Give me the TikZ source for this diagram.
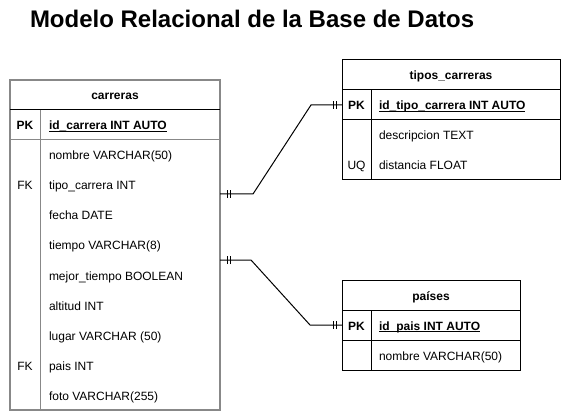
\documentclass[tikz,border=0pt]{standalone}
\usepackage{fontspec}
\setmainfont{Liberation Sans}
\usetikzlibrary{positioning}
\usetikzlibrary{decorations.markings}
\definecolor{cgray}{RGB}{136,136,136}
\newcommand\pkname[1]{\setbox0\hbox{#1}\rlap{\rule[-1.6pt]{\wd0}{0.8pt}}\box0}

\begin{document}
\begin{tikzpicture}[
    x=1pt, y=-1pt,
    every node/.style={
        inner sep=0, outer sep=0,
        font=\fontsize{12}{14}\selectfont
    },
    row/.style={
        minimum height=30pt, text height=10pt, text depth=0pt
    },
    hdr/.style={
        font=\fontsize{12}{14}\selectfont\bfseries
    },
    key/.style={
        text height=10pt, text depth=0pt
    },
    fld/.style={
        anchor=west, text height=10pt, text depth=0pt
    },
    tbl/.style={
        draw=black, line width=1pt
    },
    rel/.style={
        line width=1pt,
        postaction={decorate},
        decoration={markings,
            mark=at position 7pt with {\draw[line width=1pt] (0,-4pt) -- (0,4pt);},
            mark=at position 10pt with {\draw[line width=1pt] (0,-4pt) -- (0,4pt);},
            mark=at position -6pt with {\draw[line width=1pt] (0,-4pt) -- (0,4pt);},
            mark=at position -9pt with {\draw[line width=1pt] (0,-4pt) -- (0,4pt);}
        }
    }
]
    \useasboundingbox (0,0) rectangle (561,411);

    \node[anchor=base west, font=\fontsize{24}{28}\selectfont\bfseries]
        (titulo) at (30,28) {Modelo Relacional de la Base de Datos};

    % carreras
    \node[row, hdr, minimum width=210pt] (carreras) at (115,95) {carreras};
    \node[row, minimum width=210pt, below=0pt of carreras] (carreras-pk) {};
    \node[minimum width=210pt, minimum height=270pt,
        below=0pt of carreras-pk] (carreras-body) {};
    \draw[cgray, line width=1.5pt]
        (carreras.north west) rectangle (carreras-body.south east);
    \draw[line width=1pt] (carreras.south west) -- (carreras.south east);
    \draw[cgray, line width=1pt]
        (carreras-pk.south west) -- (carreras-pk.south east);
    \draw[cgray, line width=1pt]
        ([xshift=30pt]carreras-pk.north west) -- ([xshift=30pt]carreras-body.south west);

    \node[key, hdr] (carreras-k1) at (25,125) {PK};
    \node[key] (carreras-k2) at (25,185) {FK};
    \node[key] (carreras-k3) at (25,365) {FK};

    \node[fld, hdr] (id-carrera) at (49,125) {\pkname{id\_carrera INT AUTO}};
    \node[fld] (nombre) at (49,155) {nombre VARCHAR(50)};
    \node[fld] (tipo) at (49,185) {tipo\_carrera INT};
    \node[fld] (fecha) at (49,215) {fecha DATE};
    \node[fld] (tiempo) at (49,245) {tiempo VARCHAR(8)};
    \node[fld] (mejor) at (49,275) {mejor\_tiempo BOOLEAN};
    \node[fld] (altitud) at (49,305) {altitud INT};
    \node[fld] (lugar) at (49,335) {lugar VARCHAR (50)};
    \node[fld] (pais) at (49,365) {pais INT};
    \node[fld] (foto) at (49,395) {foto VARCHAR(255)};

    % tipos_carreras
    \node[row, hdr, tbl, minimum width=218pt] (tipos) at (451,75) {tipos\_carreras};
    \node[row, tbl, minimum width=218pt, below=0pt of tipos] (tipos-pk) {};
    \node[tbl, minimum width=218pt, minimum height=60pt,
        below=0pt of tipos-pk] (tipos-body) {};
    \draw[line width=1pt]
        ([xshift=29pt]tipos-pk.north west) -- ([xshift=29pt]tipos-body.south west);

    \node[key, hdr] (tipos-k1) at (356.5,105) {PK};
    \node[key] (tipos-k2) at (356.5,165) {UQ};

    \node[fld, hdr] (id-tipo) at (379,105) {\pkname{id\_tipo\_carrera INT AUTO}};
    \node[fld] (descripcion) at (379,135) {descripcion TEXT};
    \node[fld] (distancia) at (379,165) {distancia FLOAT};

    % paises
    \node[row, hdr, tbl, minimum width=178pt] (paises) at (431,295) {países};
    \node[row, tbl, minimum width=178pt, below=0pt of paises] (paises-pk) {};
    \node[tbl, minimum width=178pt, minimum height=30pt,
        below=0pt of paises-pk] (paises-body) {};
    \draw[line width=1pt]
        ([xshift=29pt]paises-pk.north west) -- ([xshift=29pt]paises-body.south west);

    \node[key, hdr] (paises-k1) at (356.5,325) {PK};

    \node[fld, hdr] (id-pais) at (379,325) {\pkname{id\_pais INT AUTO}};
    \node[fld] (nombre-pais) at (379,355) {nombre VARCHAR(50)};

    % relaciones
    \coordinate (tipo-fk) at (carreras-body.east |- 0,194);
    \coordinate (pais-fk) at (carreras-body.east |- 0,260);

    \draw[rel] (tipo-fk) -- ++(33,0)
        -- ([xshift=-31pt]tipos-pk.west) -- (tipos-pk.west);

    \draw[rel] (pais-fk) -- ++(31,0)
        -- ([xshift=-32pt]paises-pk.west) -- (paises-pk.west);

\end{tikzpicture}
\end{document}
